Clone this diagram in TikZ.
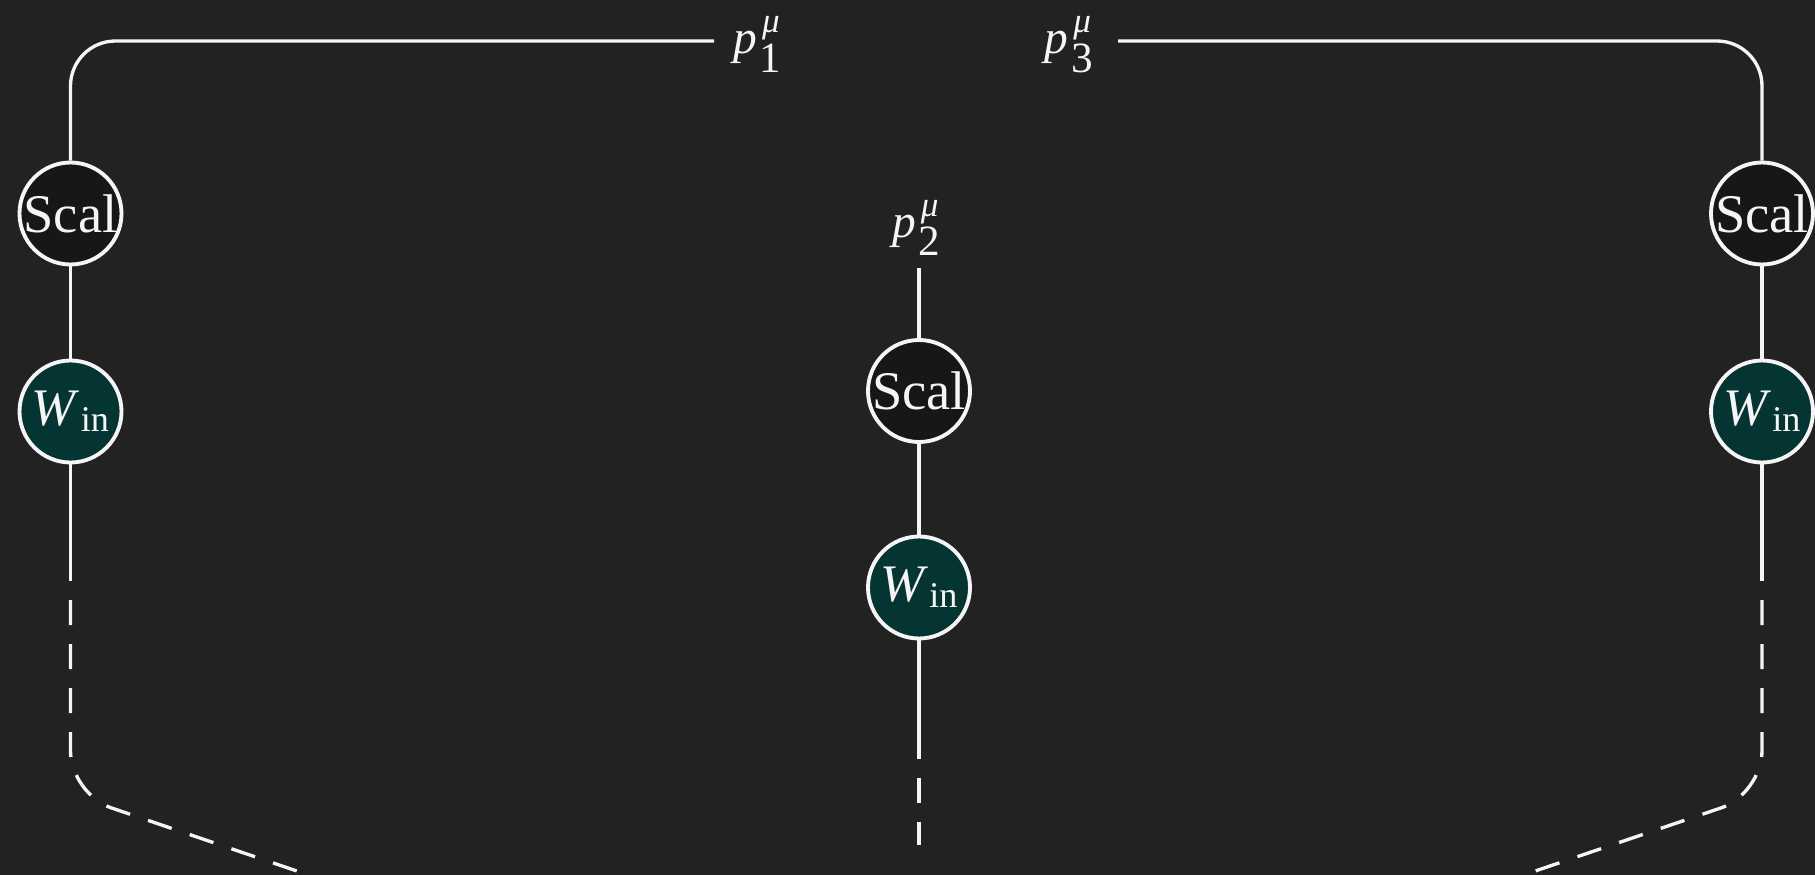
\documentclass[tikz,border=0pt]{standalone}
\usepackage{fontspec}
\setmainfont{Liberation Serif}
\usetikzlibrary{positioning,calc}
\definecolor{bgdark}{RGB}{34,34,34}
\definecolor{scalfill}{RGB}{23,23,23}
\definecolor{winfill}{RGB}{5,53,50}
\definecolor{linewhite}{RGB}{245,245,245}
\newcommand{\nowidth}[1]{\makebox[0pt]{#1}}
\newcommand{\Win}{\textit{W}\kern0.3pt\raisebox{-1.8pt}{\fontsize{10.3}{11}\selectfont in}}
\newcommand{\mom}[1]{\textit{p}\kern0.8pt\makebox[0pt][l]{\kern0.6pt\raisebox{6pt}{\fontsize{10}{10}\selectfont\itshape μ}}\raisebox{-5.2pt}{\fontsize{12.3}{12}\selectfont #1}\kern1.6pt}
\tikzset{
    scal/.style={circle, draw=linewhite, fill=scalfill, line width=1.1pt, minimum size=1.02cm, inner sep=0pt, text=linewhite, font=\fontsize{15.5}{17}\selectfont},
    win/.style={circle, draw=linewhite, fill=winfill, line width=1.1pt, minimum size=1.02cm, inner sep=0pt, text=linewhite, font=\fontsize{15}{17}\selectfont},
    wire/.style={line width=0.95pt, draw=linewhite},
    dwire/.style={wire, dash pattern=on 0.25cm off 0.19cm, dash phase=0.25cm},
    momlabel/.style={text=linewhite, font=\fontsize{13.5}{15}\selectfont},
}

\begin{document}
\begin{tikzpicture}
    \fill[bgdark] (0,0) rectangle (18.15,-8.75);
    \clip (0,0) rectangle (18.15,-8.75);

    % left leg
    \node[scal] (S1) at (0.705,-2.135) {\nowidth{Scal}};
    \node[win] (W1) at (0.705,-4.115) {\nowidth{\Win}};
    \coordinate (e1) at (7.14,-0.41);
    \node[momlabel, right=2pt of e1, yshift=-1pt] (p1) {\mom{1}};
    \coordinate (d1) at (0.705,-5.81);
    \coordinate (b1) at (0.705,-7.94);
    \coordinate (f1) at (3.38,-8.85);
    \draw[wire, rounded corners=0.45cm] (S1) |- (e1);
    \draw[wire] (S1) -- (W1);
    \draw[wire] (W1) -- (d1);
    \draw[dwire, rounded corners=0.43cm] (d1) -- (b1) -- (f1);

    % middle leg
    \coordinate (t2) at (9.19,-2.68);
    \node[momlabel, above=0pt of t2] (p2) {\mom{2}};
    \node[scal] (S2) at (9.19,-3.91) {\nowidth{Scal}};
    \node[win] (W2) at (9.19,-5.875) {\nowidth{\Win}};
    \coordinate (d2) at (9.19,-7.59);
    \coordinate (g2) at (9.19,-8.45);
    \draw[wire] (t2) -- (S2);
    \draw[wire] (S2) -- (W2);
    \draw[wire] (W2) -- (d2);
    \draw[dwire] (d2) -- (g2);

    % right leg
    \node[scal] (S3) at (17.62,-2.135) {\nowidth{Scal}};
    \node[win] (W3) at (17.62,-4.115) {\nowidth{\Win}};
    \coordinate (e3) at (11.18,-0.41);
    \node[momlabel, left=2pt of e3, yshift=-1pt] (p3) {\mom{3}};
    \coordinate (d3) at (17.62,-5.81);
    \coordinate (b3) at (17.62,-7.94);
    \coordinate (f3) at (14.94,-8.85);
    \draw[wire, rounded corners=0.45cm] (e3) -| (S3);
    \draw[wire] (S3) -- (W3);
    \draw[wire] (W3) -- (d3);
    \draw[dwire, rounded corners=0.43cm] (d3) -- (b3) -- (f3);
\end{tikzpicture}
\end{document}
